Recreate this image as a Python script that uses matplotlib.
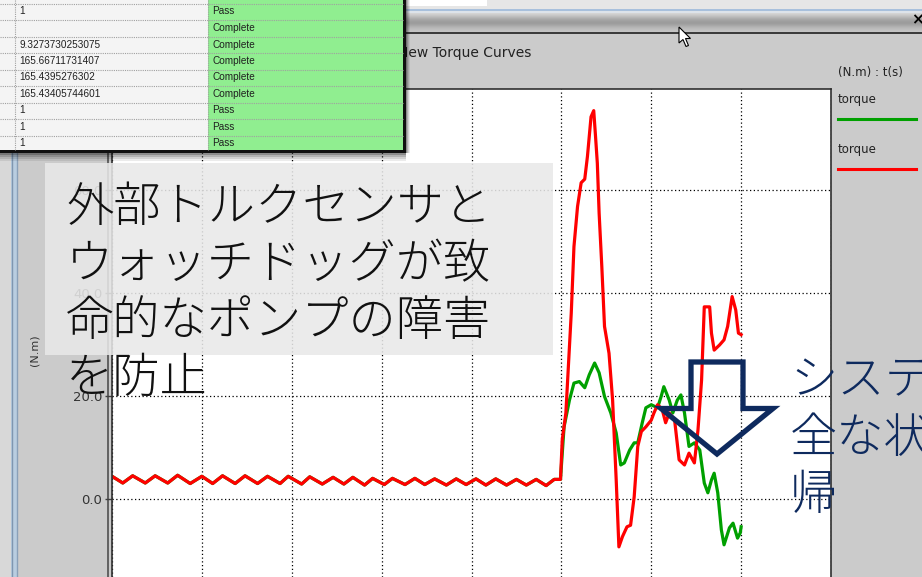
import matplotlib
matplotlib.use("Agg")
import matplotlib.pyplot as plt
from matplotlib.patches import Rectangle, Polygon
from matplotlib.lines import Line2D

# flat part, both sensors read the same idle torque
flat_t = [0.01, 0.12, 0.23, 0.37, 0.48, 0.62, 0.73, 0.87, 1.00, 1.12, 1.23, 1.37,
          1.48, 1.62, 1.73, 1.87, 1.96, 2.11, 2.20, 2.34, 2.46, 2.58, 2.68, 2.81,
          2.90, 3.03, 3.12, 3.26, 3.37, 3.48, 3.59, 3.72, 3.83, 3.94, 4.05, 4.16,
          4.27, 4.39, 4.50, 4.61, 4.72, 4.83, 4.92, 4.99]
flat_v = [4.3, 3.1, 4.5, 3.1, 4.5, 3.1, 4.6, 3.0, 4.4, 3.0, 4.5, 3.0,
          4.5, 3.0, 4.4, 3.0, 4.4, 2.9, 4.3, 2.9, 4.2, 2.9, 4.2, 2.7,
          4.0, 2.8, 4.0, 2.8, 4.0, 2.8, 3.9, 2.7, 3.9, 2.8, 3.9, 2.7,
          3.9, 2.7, 3.8, 2.7, 3.8, 2.6, 3.8, 3.8]

red_tail_t = [5.01, 5.05, 5.11, 5.14, 5.18, 5.22, 5.26, 5.29, 5.33, 5.36, 5.38,
              5.40, 5.42, 5.45, 5.48, 5.53, 5.57, 5.61, 5.64, 5.68, 5.73, 5.77,
              5.81, 5.85, 5.89, 5.94, 6.00, 6.03, 6.07, 6.12, 6.16, 6.20, 6.26,
              6.31, 6.37, 6.42, 6.48, 6.52, 6.56, 6.59, 6.65, 6.67, 6.70, 6.76,
              6.81, 6.85, 6.90, 6.94, 6.97, 7.00]
red_tail_v = [11.5, 16.7, 36.1, 49.0, 56.8, 61.4, 62.1, 66.5, 74.2, 75.4, 70.4,
              65.2, 55.5, 45.1, 33.5, 28.3, 19.2, 3.7, -9.3, -7.3, -5.4, -5.1,
              0.4, 10.2, 13.1, 14.0, 15.3, 16.7, 18.3, 17.5, 14.8, 16.7, 15.3,
              7.6, 6.6, 8.9, 7.0, 13.4, 23.1, 37.3, 37.3, 32.2, 28.9, 29.9,
              30.9, 33.5, 39.3, 36.7, 32.2, 31.9]

green_tail_t = [5.03, 5.09, 5.14, 5.20, 5.26, 5.31, 5.37, 5.42, 5.48, 5.55, 5.61,
                5.66, 5.70, 5.76, 5.81, 5.85, 5.90, 5.94, 6.00, 6.07, 6.11, 6.14,
                6.20, 6.24, 6.29, 6.33, 6.37, 6.42, 6.48, 6.54, 6.59, 6.63, 6.67,
                6.70, 6.74, 6.78, 6.81, 6.87, 6.91, 6.96, 6.99, 7.00]
green_tail_v = [14.0, 19.2, 22.5, 22.8, 21.6, 24.1, 26.4, 24.5, 19.9, 16.7, 12.8,
                6.6, 7.0, 9.5, 10.9, 10.9, 14.8, 17.7, 18.3, 17.7, 19.9, 21.8,
                19.2, 16.7, 19.2, 20.2, 16.7, 10.2, 10.9, 9.5, 3.1, 1.2, 3.7,
                5.0, 1.2, -6.0, -8.9, -5.6, -4.7, -7.6, -6.6, -5.4]

y_ticks = [0, 20, 40, 60]
y_tick_labels = ["0.0", "20.0", "40.0", "60.0"]

row_values = ["1", "", "9.3273730253075", "165.66711731407", "165.4395276302",
              "165.43405744601", "1", "1", "1"]
row_status = ["Pass", "Complete", "Complete", "Complete", "Complete", "Complete",
              "Pass", "Pass", "Pass"]

legend_names = ["torque", "torque"]
legend_colors = ["#00a000", "#ff0000"]

note_left = ["外部トルクセンサと", "ウォッチドッグが致", "命的なポンプの障害", "を防止"]
note_right = ["システムが安", "全な状態に復", "帰"]

W, H = 922, 577
JP = ["Noto Sans CJK JP", "DejaVu Sans"]
NAVY = "#0e2a5e"


def fx(x):
    return x / W


def fy(y):
    return 1 - y / H


def rect(x0, y0, x1, y1, color, z, alpha=1.0, **kw):
    r = Rectangle((fx(x0), fy(y1)), (x1 - x0) / W, (y1 - y0) / H,
                  transform=fig.transFigure, facecolor=color, edgecolor="none",
                  alpha=alpha, zorder=z, **kw)
    fig.add_artist(r)
    return r


def hline(x0, x1, y, color, z, lw=1.0, ls="-"):
    fig.add_artist(Line2D([fx(x0), fx(x1)], [fy(y), fy(y)], transform=fig.transFigure,
                          color=color, lw=lw, ls=ls, zorder=z))


def vline(x, y0, y1, color, z, lw=1.0, ls="-"):
    fig.add_artist(Line2D([fx(x), fx(x)], [fy(y0), fy(y1)], transform=fig.transFigure,
                          color=color, lw=lw, ls=ls, zorder=z))


fig = plt.figure(figsize=(W / 100, H / 100), dpi=100, facecolor="#cbcbcb")

# window chrome -------------------------------------------------------------
rect(0, 0, W, 9, "#e6e6e6", 0.5)
rect(405, 0, 487, 6, "#ffffff", 0.6)
rect(405, 9, W, 11, "#a8c0dc", 0.6)
rect(405, 11, W, 13, "#dde3ea", 0.6)
bar = ["#d4d4d4", "#cdcdcd", "#c6c6c6", "#bebebe", "#b6b6b6", "#aeaeae", "#a7a7a7",
       "#a2a2a2", "#9e9e9e", "#9c9c9c", "#9d9d9d", "#a2a2a2", "#a8a8a8", "#afafaf",
       "#b5b5b5", "#bababa", "#bebebe", "#c1c1c1", "#c4c4c4"]
for i, c in enumerate(bar):
    rect(405, 13 + i, W, 14 + i, c, 0.6)
rect(405, 32, W, 34, "#3c3c3c", 0.6)
fig.text(fx(911), fy(20), "×", fontsize=11, fontweight="bold", va="center",
         ha="left", color="black", zorder=0.7)

rect(0, 0, 11, H, "#d8d8d8", 0.5)
rect(11, 0, 17, H, "#b9cde0", 0.6)
vline(11.5, 0, H, "#7f96b0", 0.7)
vline(16.5, 0, H, "#8aa0b8", 0.7)
vline(108, 0, H, "#505050", 0.7, lw=1.2)

# main chart ----------------------------------------------------------------
ax = fig.add_axes([fx(112), 0, (831 - 112) / W, fy(89)], zorder=1)
ax.set_facecolor("white")
ax.plot(flat_t + green_tail_t, flat_v + green_tail_v, color="#00a000", lw=2.3,
        solid_joinstyle="round")
ax.plot(flat_t + red_tail_t, flat_v + red_tail_v, color="#ff0000", lw=2.3,
        solid_joinstyle="round")
ax.set_xlim(0, 8)
ax.set_ylim(-15.15, 79.6)
ax.set_xticks(range(9))
ax.set_yticks(y_ticks)
ax.set_yticklabels(y_tick_labels)
ax.grid(True, color="black", linestyle=(0, (1, 2)), linewidth=0.9)
ax.tick_params(axis="x", bottom=False, labelbottom=False)
ax.tick_params(axis="y", direction="out", length=5, width=1, color="#404040",
               labelsize=9.5, labelcolor="#333333", pad=2)
for s in ["left", "top", "right"]:
    ax.spines[s].set_color("#303030")
    ax.spines[s].set_linewidth(1.2)
ax.spines["bottom"].set_visible(False)

fig.text(fx(35), fy(350), "(N.m)", rotation=90, fontsize=8, color="#333333",
         ha="center", va="center")
fig.text(fx(398), fy(53), "New Torque Curves", fontsize=10, color="#222222",
         ha="left", va="center")

# legend panel on the right
fig.text(fx(838), fy(72), "(N.m) : t(s)", fontsize=8.5, color="#222222",
         ha="left", va="center")
for i, (name, c) in enumerate(zip(legend_names, legend_colors)):
    fig.text(fx(838), fy(99 + 50 * i), name, fontsize=8.5, color="#222222",
             ha="left", va="center")
    hline(838, 916, 119 + 50 * i, c, 2, lw=2.2)

# overlays ------------------------------------------------------------------
rect(45, 163, 553, 355, "#e8e8e8", 4, alpha=0.87)
for i, line in enumerate(note_left):
    fig.text(fx(66), fy(221 + 57 * i), line, family=JP, fontsize=34,
             fontweight="light", color="#111111", ha="left", va="baseline",
             zorder=5)
for i, line in enumerate(note_right):
    fig.text(fx(790), fy(394 + 57.5 * i), line, family=JP, fontsize=34,
             fontweight="light", color=NAVY, ha="left", va="baseline", zorder=5)

arrow_px = [(691, 362), (743, 362), (743, 408.5), (773, 408.5), (717, 454),
            (661, 408.5), (691, 408.5)]
fig.add_artist(Polygon([(fx(x), fy(y)) for x, y in arrow_px], closed=True,
                       fill=False, edgecolor=NAVY, lw=3.8, joinstyle="miter",
                       transform=fig.transFigure, zorder=5))

# results table in the top left corner
rect(0, 0, 208, 152, "#f4f4f4", 6)
rect(208, 0, 403, 152, "#90ee90", 6)
for i in range(9):
    hline(0, 403, 3.5 + 16.5 * i, "#a0a0a0", 6.5, lw=0.8, ls=(0, (1, 1)))
vline(15, 0, 151, "#a0a0a0", 6.5, lw=0.8, ls=(0, (1, 1)))
vline(208, 0, 151, "#a0a0a0", 6.5, lw=0.8, ls=(0, (1, 1)))
for i, (val, st) in enumerate(zip(row_values, row_status)):
    yc = 11.5 + 16.5 * i
    fig.text(fx(19), fy(yc), val, family="Liberation Sans", fontsize=7.2,
             color="#202020", ha="left", va="center", zorder=7)
    fig.text(fx(212), fy(yc), st, family="Liberation Sans", fontsize=7.2,
             color="#202020", ha="left", va="center", zorder=7)
rect(403, 0, 406, 153, "#101010", 6)
rect(0, 150, 406, 153, "#101010", 6)
for k, a in enumerate([0.45, 0.3, 0.18, 0.08]):
    rect(406 + k, 0, 407 + k, 153, "#000000", 6, alpha=a)
    rect(0, 153 + 2 * k, 406, 155 + 2 * k, "#000000", 6, alpha=a)

# mouse pointer
cur_px = [(679, 27), (679, 43), (683, 39.5), (686, 46.5), (688.5, 45.5),
          (685.5, 38.5), (690.5, 38.5)]
fig.add_artist(Polygon([(fx(x), fy(y)) for x, y in cur_px], closed=True,
                       facecolor="white", edgecolor="black", lw=0.8,
                       transform=fig.transFigure, zorder=8))

fig.savefig("out.png", dpi=100, facecolor=fig.get_facecolor())
